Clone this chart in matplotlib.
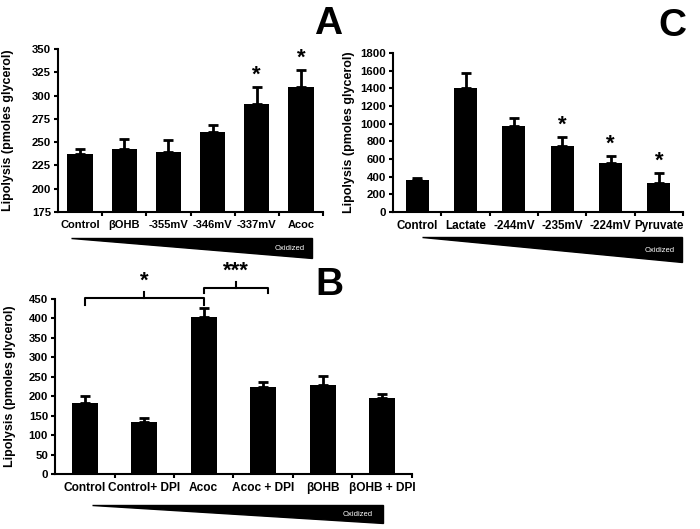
import matplotlib.pyplot as plt
from matplotlib.patches import Polygon

plt.rcParams['font.family'] = ['Liberation Sans', 'DejaVu Sans']
plt.rcParams['font.weight'] = 'bold'

# Panel A - redox couples (betaOHB / Acoc)
cats_a = ['Control', 'βOHB', '-355mV', '-346mV', '-337mV', 'Acoc']
vals_a = [237, 243, 239, 261, 291, 309]
err_a = [6, 10, 13, 7, 18, 18]
sig_a = ['', '', '', '', '*', '*']

# Panel C - lactate / pyruvate
cats_c = ['Control', 'Lactate', '-244mV', '-235mV', '-224mV', 'Pyruvate']
vals_c = [366, 1400, 977, 747, 555, 325]
err_c = [20, 177, 90, 98, 80, 116]
sig_c = ['', '', '', '*', '*', '*']

# Panel B - DPI
cats_b = ['Control', 'Control+ DPI', 'Acoc', 'Acoc + DPI', 'βOHB', 'βOHB + DPI']
vals_b = [182, 134, 404, 225, 229, 195]
err_b = [19, 9, 22, 11, 23, 11]

W, H = 700, 529
fig = plt.figure(figsize=(7, 5.29), dpi=100)


def px(x0, y0, x1, y1):
    # pixel box -> figure fraction [left, bottom, width, height]
    return [x0 / W, 1 - y1 / H, (x1 - x0) / W, (y1 - y0) / H]


def panel(rect, cats, vals, errs, ylim, step, width, ylab_x, xfs):
    ax = fig.add_axes(rect)
    x = range(len(cats))
    ax.bar(x, vals, width=width, color='black', zorder=2)
    ax.errorbar(x, vals, yerr=[[0] * len(errs), errs], fmt='none',
                ecolor='black', elinewidth=2, capsize=3.5, capthick=2, zorder=1)
    ax.set_xlim(-0.5, len(cats) - 0.5)
    ax.set_ylim(ylim)
    ax.set_yticks(range(ylim[0], ylim[1] + 1, step))
    ax.set_xticks(list(x))
    ax.set_xticklabels(cats, fontsize=xfs, fontweight='bold')
    ax.set_xticks([i + 0.5 for i in range(len(cats))], minor=True)
    ax.tick_params(axis='x', which='major', length=0, pad=6)
    ax.tick_params(axis='x', which='minor', length=3, width=1.5, direction='out')
    ax.tick_params(axis='y', length=3, width=1.5, labelsize=8.2, pad=2)
    for lab in ax.get_yticklabels():
        lab.set_fontweight('bold')
    for s in ['top', 'right']:
        ax.spines[s].set_visible(False)
    for s in ['left', 'bottom']:
        ax.spines[s].set_linewidth(1.5)
    ax.set_ylabel('Lipolysis (pmoles glycerol)', fontsize=9, fontweight='bold')
    ax.yaxis.set_label_coords(ylab_x, 0.5)
    return ax


def stars(ax, vals, errs, sig):
    for i, s in enumerate(sig):
        if s:
            ax.annotate(s, (i, vals[i] + errs[i]), xytext=(0, 1), textcoords='offset points',
                        ha='center', va='bottom', fontsize=16, fontweight='bold')


def wedge(x0, x1, ytop, ybot, tx, ty):
    pts = [(x0 / W, 1 - ytop / H), (x1 / W, 1 - ytop / H), (x1 / W, 1 - ybot / H)]
    fig.patches.append(Polygon(pts, closed=True, color='black', transform=fig.transFigure))
    fig.text(tx / W, 1 - ty / H, 'Oxidized', color='white', fontsize=5.5,
             fontweight='normal', ha='center', va='center')


ax_a = panel(px(58, 49, 323, 212), cats_a, vals_a, err_a, (175, 350), 25, 0.57, -0.166, 8)
stars(ax_a, vals_a, err_a, sig_a)

ax_c = panel(px(393, 53, 683, 212), cats_c, vals_c, err_c, (0, 1800), 200, 0.47, -0.131, 8.4)
stars(ax_c, vals_c, err_c, sig_c)

ax_b = panel(px(55, 299, 412, 474), cats_b, vals_b, err_b, (0, 450), 50, 0.44, -0.109, 8.6)

# brackets in B
ax_b.plot([0, 0, 2, 2], [435, 453, 453, 435], color='black', lw=1.5, clip_on=False)
ax_b.plot([1, 1], [453, 468], color='black', lw=1.5, clip_on=False)
ax_b.text(1, 468, '*', ha='center', va='bottom', fontsize=16, fontweight='bold')
ax_b.plot([2, 2, 3.08, 3.08], [465, 478, 478, 465], color='black', lw=1.5, clip_on=False)
ax_b.plot([2.54, 2.54], [478, 493], color='black', lw=1.5, clip_on=False)
ax_b.text(2.54, 494, '***', ha='center', va='bottom', fontsize=16, fontweight='bold')

# wedges
wedge(71, 312, 238, 258, 290, 248)
wedge(422, 682, 237, 262, 660, 251)
wedge(92, 383, 505, 523, 358, 514)

# panel letters
fig.text(328 / W, 1 - 24 / H, 'A', fontsize=28, fontweight='bold', ha='center', va='center')
fig.text(672 / W, 1 - 26 / H, 'C', fontsize=28, fontweight='bold', ha='center', va='center')
fig.text(329 / W, 1 - 285 / H, 'B', fontsize=28, fontweight='bold', ha='center', va='center')

plt.savefig('out.png', dpi=100)
